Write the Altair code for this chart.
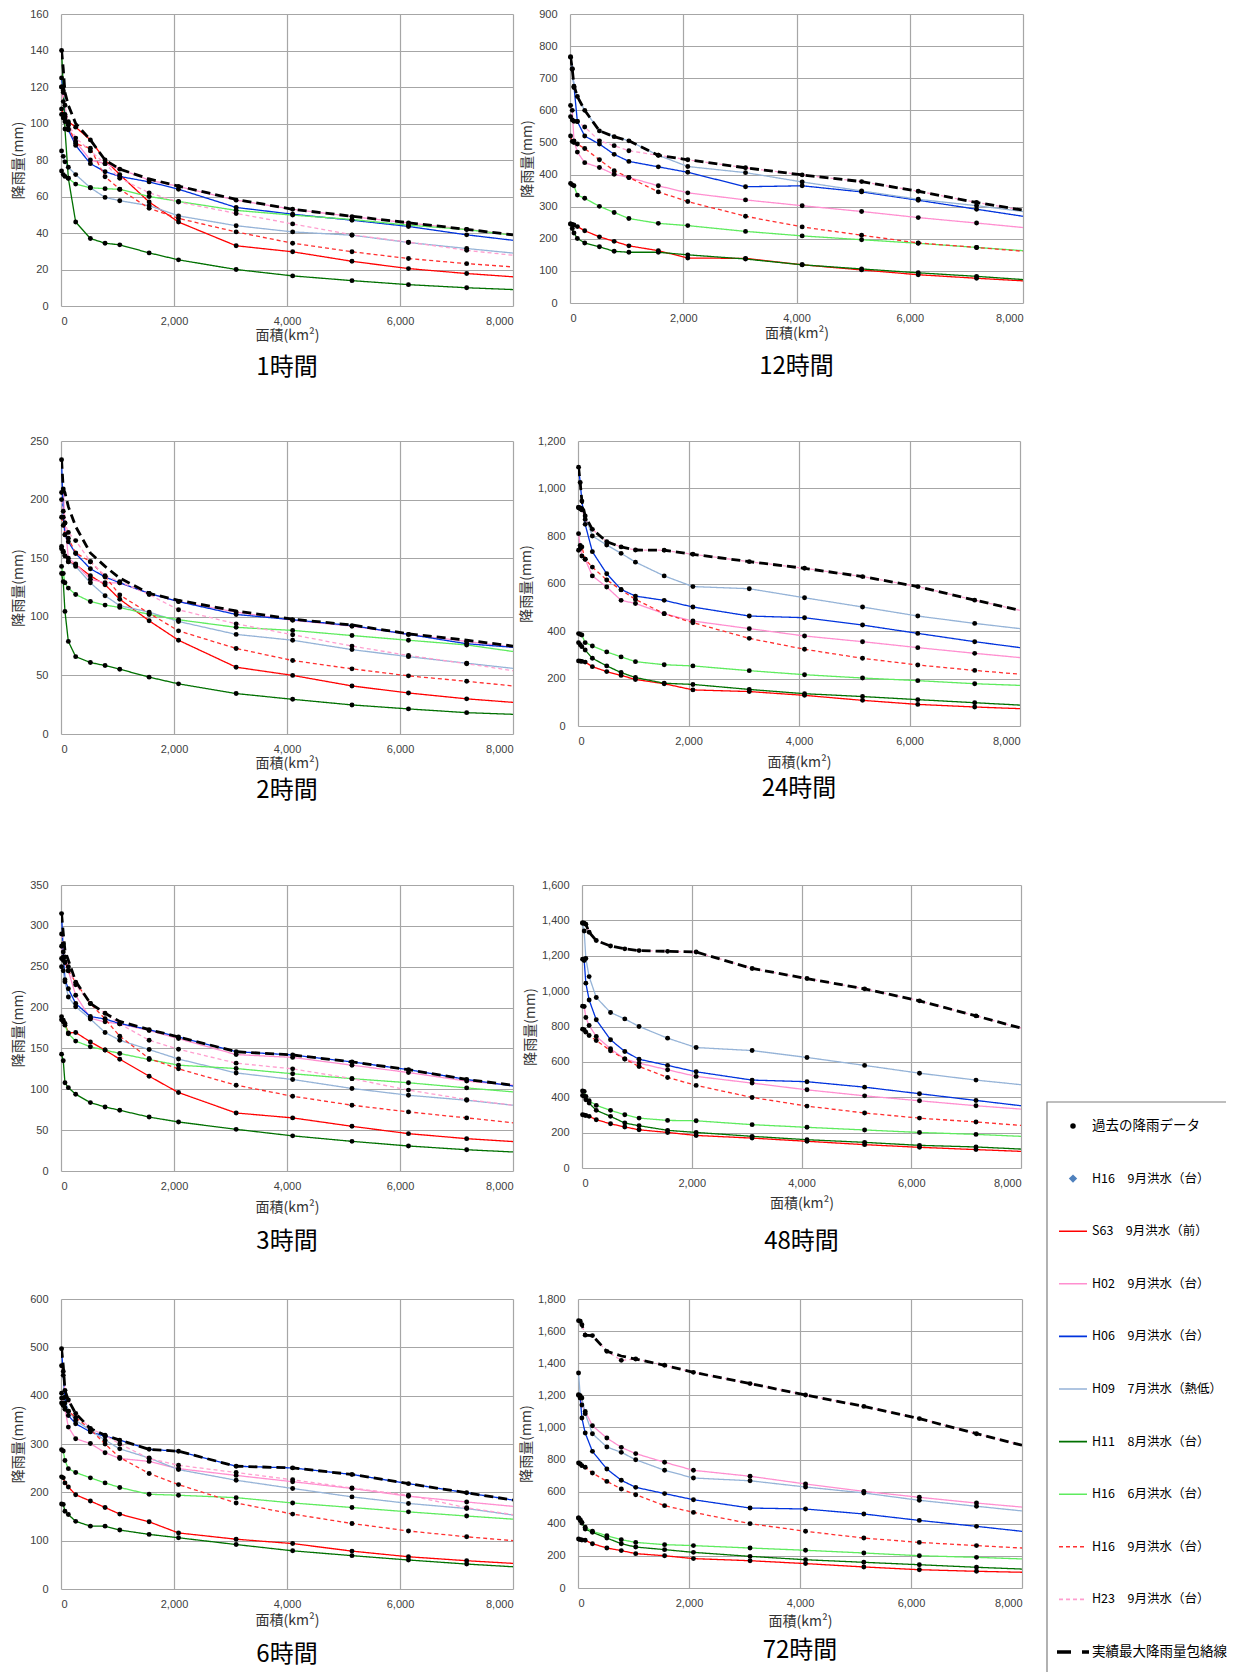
import altair as alt
import pandas as pd

# ---------------- data ----------------
AREAS = [10, 40, 70, 130, 260, 520, 780, 1040, 1560, 2080, 3100, 4100, 5150, 6150, 7180, 8000]
X_TICKS = [0, 2000, 4000, 6000, 8000]

SERIES = ["S63", "H02", "H06", "H09", "H11", "H16_6", "H16_9", "H23"]
COLORS = ["#FF0000", "#FF8FD0", "#0033DD", "#95B3D7", "#007000", "#5EEB5E", "#FF3030", "#FF9ECF"]
DASHES = [[1, 0], [1, 0], [1, 0], [1, 0], [1, 0], [1, 0], [4, 3], [4, 3]]

P01 = {
    "S63":   [108, 105, 103, 101, 98, 91, 80, 72, 57, 46, 33, 29.7, 24.5, 20.5, 17.8, 16],
    "H02":   [120, 112, 104, 97, 90, 80, 78, 75, 69, 65.5, 58, 53, 49, 45.5, 42, 39],
    "H06":   [125, 118, 105, 96.5, 88, 78, 73.6, 71, 68, 64, 54, 50.3, 47, 43.6, 39, 36],
    "H09":   [85, 82, 79, 76, 72, 64.8, 59.5, 57.7, 55, 49.4, 44, 40.6, 38.8, 34.8, 31.5, 29],
    "H11":   [140, 120, 97, 70, 46, 37, 34.4, 33.5, 29.1, 25.3, 20, 16.5, 13.9, 11.7, 10, 9],
    "H16_6": [74, 72, 71, 70, 66.8, 64.8, 64.3, 63.9, 60, 57.3, 52.4, 49.8, 47.4, 44.3, 41.9, 38.8],
    "H16_9": [105, 103, 101, 99, 89, 86.4, 70.8, 64, 53.5, 48, 40.6, 34.4, 29.7, 26, 23.2, 21.4],
    "H23":   [120, 117, 110, 100, 92, 85, 78, 70, 62, 57, 50.7, 45, 39, 35, 30.5, 27.8],
}
ENV01 = [140, 130, 117, 110, 100, 91, 80, 75, 69.6, 65.7, 58.4, 53, 49.2, 45.6, 42, 39]

P12 = {
    "S63":   [246, 245, 243, 238, 225, 206, 192, 178, 163, 140, 139, 119, 103, 88, 77, 69],
    "H02":   [615, 600, 505, 470, 437, 422, 401, 391, 365, 343, 321, 303, 285, 266, 249, 235],
    "H06":   [767, 728, 675, 565, 520, 495, 463, 441, 424, 407, 362, 365, 346, 320, 292, 270],
    "H09":   [765, 730, 671, 643, 600, 536, 518, 505, 460, 425, 406, 377, 349, 323, 303, 285],
    "H11":   [246, 232, 218, 201, 187, 175, 161, 158, 158, 150, 137, 119, 106, 94, 83, 73],
    "H16_6": [372, 368, 365, 336, 326, 301, 282, 263, 248, 241, 223, 209, 197, 186, 173, 163],
    "H16_9": [520, 503, 500, 495, 481, 446, 412, 391, 346, 316, 270, 237, 211, 187, 173, 161],
    "H23":   [580, 570, 566, 565, 548, 505, 490, 474, 460, 446, 421, 399, 378, 348, 313, 289],
}
ENV12 = [767, 728, 678, 643, 600, 536, 518, 505, 460, 446, 421, 399, 378, 348, 313, 289]

P02 = {
    "S63":   [158, 155, 152, 147, 144.5, 135, 127.4, 115, 96.6, 80, 57, 50, 41, 35, 30, 27],
    "H02":   [206, 209, 180, 150, 145, 132, 129, 129, 120, 113, 104, 97, 92, 85, 79, 74],
    "H06":   [234, 185, 170, 164, 154, 141, 134, 129, 120, 113, 102, 97.5, 92.5, 85, 77, 74],
    "H09":   [160, 156, 152, 147, 143, 129, 118, 109.5, 104, 96, 85, 80, 72, 66, 60.4, 56],
    "H11":   [137, 130, 104.6, 79, 66, 61, 58.4, 55.3, 48.5, 42.8, 34.5, 29.6, 24.8, 21.4, 18.2, 16.8],
    "H16_6": [143, 137, 129, 124.5, 119, 113, 110, 108, 102, 97.5, 91, 88.4, 84, 80, 76, 70.4],
    "H16_9": [185, 178, 170, 167, 154.5, 147, 134.5, 118.6, 103, 88, 73, 62.7, 55.6, 49.6, 45, 41],
    "H23":   [200, 190, 180, 172, 165, 147, 135, 130, 119, 106, 94, 84.7, 75, 67, 60, 54],
}
ENV02 = [234, 209, 206, 194, 177, 154.5, 143, 133, 120, 114, 105, 98, 93, 85.5, 80, 75]

P24 = {
    "S63":   [274, 273, 272, 269, 250, 229, 213, 196, 178, 152, 145, 129, 108, 91, 80, 73],
    "H02":   [810, 760, 716, 702, 632, 585, 529, 516, 473, 442, 410, 379, 355, 330, 306, 288],
    "H06":   [1090, 1025, 947, 849, 734, 641, 575, 547, 529, 501, 463, 456, 425, 390, 355, 330],
    "H09":   [920, 915, 910, 884, 800, 762, 727, 690, 632, 587, 578, 540, 501, 463, 432, 410],
    "H11":   [351, 342, 334, 320, 285, 253, 225, 204, 180, 175, 154, 136, 124, 111, 98, 88],
    "H16_6": [389, 386, 383, 351, 337, 312, 291, 271, 258, 253, 233, 216, 202, 191, 178, 171],
    "H16_9": [740, 747, 754, 702, 669, 615, 573, 533, 473, 435, 369, 323, 285, 257, 234, 218],
    "H23":   [920, 918, 915, 870, 828, 776, 754, 741, 740, 723, 692, 664, 629, 587, 530, 487],
}
ENV24 = [1090, 1025, 947, 884, 828, 776, 754, 741, 740, 723, 692, 664, 629, 587, 530, 487]

P03 = {
    "S63":   [185, 182.5, 180.5, 169, 169.5, 158, 148, 136.8, 116, 96, 71, 65, 54.7, 45.7, 39.6, 36],
    "H02":   [275, 262, 255, 245, 215, 187, 182.5, 180, 172, 162, 142.5, 139, 129.5, 120.5, 110, 105],
    "H06":   [315, 268, 234, 223, 205, 189, 186, 180.5, 173, 164, 146, 142, 133.5, 124, 112, 104],
    "H09":   [250, 245, 231.5, 213, 201, 186, 169.5, 160, 148.6, 137, 120, 112, 101, 92.7, 86.6, 80.5],
    "H11":   [143, 135, 108, 102, 94, 83.7, 78.4, 74.3, 66, 60, 51, 43, 36.3, 30.6, 26, 23.3],
    "H16_6": [188.7, 184.6, 178.5, 168, 159, 152, 148, 143.8, 136.4, 129.5, 125.4, 119, 113, 108, 101.7, 96.8],
    "H16_9": [260, 258, 256, 245, 231, 205, 186, 165, 137.6, 125, 105, 91.5, 80.5, 72.3, 65, 59],
    "H23":   [290, 278, 262, 250, 228, 205, 193, 180, 160, 149, 132, 125, 113, 99, 87.4, 80.5],
}
ENV03 = [315, 291, 270, 258, 232, 205, 193, 183, 173, 164, 146, 142, 133.5, 124, 112, 105]

P48 = {
    "S63":   [301, 299, 297, 292, 273, 250, 232, 216, 201, 184, 169, 151, 132, 117, 104, 94],
    "H02":   [915, 913, 851, 806, 744, 674, 616, 593, 555, 518, 480, 442, 408, 380, 352, 333],
    "H06":   [1180, 1173, 1045, 950, 838, 725, 659, 615, 580, 544, 497, 488, 457, 420, 382, 352],
    "H09":   [1384, 1340, 1185, 1082, 964, 879, 843, 800, 734, 681, 664, 625, 580, 536, 497, 471],
    "H11":   [410, 405, 386, 367, 326, 292, 254, 239, 213, 201, 179, 160, 145, 128, 119, 107],
    "H16_6": [435, 433, 405, 380, 354, 326, 301, 282, 269, 267, 245, 230, 215, 201, 190, 179],
    "H16_9": [785, 781, 768, 749, 721, 663, 616, 574, 512, 467, 399, 350, 311, 282, 260, 241],
    "H23":   [1387, 1384, 1378, 1333, 1286, 1255, 1239, 1229, 1225, 1221, 1128, 1071, 1013, 945, 860, 791],
}
ENV48 = [1387, 1384, 1378, 1333, 1286, 1255, 1239, 1229, 1225, 1221, 1128, 1071, 1013, 945, 860, 791]

P06 = {
    "S63":   [232, 230, 219.5, 211, 195, 182, 168.6, 155, 139, 116, 103, 94, 78.4, 66.7, 58.5, 53],
    "H02":   [395, 380, 372, 335, 311, 301, 282, 270, 264, 249, 235, 222, 208, 192, 180, 171],
    "H06":   [497, 442, 397, 359, 342, 325, 316, 308, 289, 285, 254, 250.5, 237, 218, 199, 184],
    "H09":   [405, 395, 385, 368, 349, 328, 308, 290, 271, 247, 225, 208, 190.6, 177, 166.5, 153],
    "H11":   [176, 175, 161, 154, 140, 130, 130, 122, 113, 106, 92, 79, 69, 60, 51.6, 46],
    "H16_6": [288, 285.5, 266, 249, 241, 230, 219.5, 210, 196, 194, 189, 178, 168.6, 159.6, 151, 144.5],
    "H16_9": [385, 380, 375, 368, 355, 330, 300, 272, 239, 216, 178, 155, 135.5, 120, 108, 100],
    "H23":   [462, 450, 411, 391, 363, 332, 318, 300, 270, 256, 241, 226, 209, 194, 168, 154],
}
ENV06 = [497, 462, 411, 391, 363, 332, 318, 308, 289, 285, 254, 250.5, 237, 218, 199, 184]

P72 = {
    "S63":   [305, 301, 299, 297, 276, 249, 233, 214, 201, 183, 170, 152, 131, 114, 104, 98],
    "H02":   [1200, 1185, 1140, 1100, 1011, 934, 876, 837, 783, 733, 696, 648, 602, 565, 529, 504],
    "H06":   [1204, 1183, 1059, 965, 851, 741, 671, 627, 588, 550, 498, 492, 461, 421, 384, 353],
    "H09":   [1339, 1198, 1183, 1086, 961, 878, 845, 799, 733, 685, 668, 629, 592, 546, 509, 480],
    "H11":   [436, 421, 405, 367, 347, 311, 276, 255, 239, 222, 197, 176, 160, 145, 129, 118],
    "H16_6": [436, 426, 409, 378, 353, 326, 301, 284, 270, 264, 249, 235, 218, 201, 191, 181],
    "H16_9": [779, 772, 762, 752, 716, 664, 617, 581, 513, 471, 401, 353, 311, 284, 264, 249],
    "H23":   [1665, 1661, 1640, 1575, 1572, 1474, 1418, 1426, 1387, 1343, 1273, 1202, 1131, 1055, 961, 889],
}
ENV72 = [1665, 1661, 1640, 1575, 1572, 1474, 1445, 1426, 1387, 1343, 1273, 1202, 1131, 1055, 961, 889]

LEG_LABELS = ["過去の降雨データ", "H16　9月洪水（台）", "S63　9月洪水（前）", "H02　9月洪水（台）",
              "H06　9月洪水（台）", "H09　7月洪水（熱低）", "H11　8月洪水（台）", "H16　6月洪水（台）",
              "H16　9月洪水（台）", "H23　9月洪水（台）", "実績最大降雨量包絡線"]
LEG_KIND = ["dot", "diamond", "S63", "H02", "H06", "H09", "H11", "H16_6", "H16_9", "H23", "ENV"]

# ---------------- layout constants ----------------
JP = "Noto Sans CJK JP"
LEG_W, LEG_H = 180, 787
LEG_STEP = 52.6
LEG_D0 = -241 / LEG_STEP
LEG_D1 = LEG_D0 + LEG_H / LEG_STEP
LEG_BOX_TOP = LEG_D0 + 217 / LEG_STEP


def long_df(d):
    rows = []
    for s in SERIES:
        for a, v in zip(AREAS, d[s]):
            rows.append({"area": a, "value": v, "series": s})
    return pd.DataFrame(rows)


def panel(title, d, env, ymax, ystep, w, h, xtp, toff):
    df = long_df(d)
    edf = pd.DataFrame({"area": AREAS, "value": env})
    xs = alt.Scale(domain=[0, 8000], nice=False, zero=False)
    ys = alt.Scale(domain=[0, ymax], nice=False)
    yvals = list(range(0, ymax + 1, ystep))
    xenc = alt.X("area:Q", scale=xs,
                 axis=alt.Axis(values=X_TICKS, tickCount=len(X_TICKS), format=",d", title="面積(km²)",
                               titlePadding=xtp, labelOverlap=False))
    yenc = alt.Y("value:Q", scale=ys,
                 axis=alt.Axis(values=yvals, tickCount=len(yvals), format=",d", title="降雨量(mm)",
                               labelOverlap=False))
    lines = alt.Chart(df).mark_line(strokeWidth=1.3, clip=True).encode(
        x=xenc, y=yenc,
        color=alt.Color("series:N", scale=alt.Scale(domain=SERIES, range=COLORS), legend=None),
        strokeDash=alt.StrokeDash("series:N", scale=alt.Scale(domain=SERIES, range=DASHES), legend=None),
    )
    env_line = alt.Chart(edf).mark_line(color="black", strokeWidth=2.8, strokeDash=[9, 5], clip=True).encode(
        x=alt.X("area:Q", scale=xs), y=alt.Y("value:Q", scale=ys))
    dots = alt.Chart(df).transform_filter(alt.datum.area < 8000).mark_circle(
        color="black", size=24, opacity=1).encode(
        x=alt.X("area:Q", scale=xs), y=alt.Y("value:Q", scale=ys))
    return alt.layer(lines, env_line, dots).properties(
        width=w, height=h,
        title=alt.TitleParams(title, orient="bottom", frame="group", anchor="middle", offset=toff,
                              fontSize=24, font=JP, fontWeight="normal", color="black"))


p1 = panel("1時間", P01, ENV01, 160, 20, 452, 292, 2, 14)
p12 = panel("12時間", P12, ENV12, 900, 100, 453, 289, 3, 15)
p2 = panel("2時間", P02, ENV02, 250, 50, 452, 293, 2, 9)
p24 = panel("24時間", P24, ENV24, 1200, 200, 442, 285, 9, 8)
p3 = panel("3時間", P03, ENV03, 350, 50, 452, 286, 9, 16)
p48 = panel("48時間", P48, ENV48, 1600, 200, 439, 283, 8, 20)
p6 = panel("6時間", P06, ENV06, 600, 100, 452, 290, 4, 16)
p72 = panel("72時間", P72, ENV72, 1800, 200, 444, 289, 6, 11)

# ---------------- legend ----------------
leg_df = pd.DataFrame({"idx": list(range(len(LEG_LABELS))), "label": LEG_LABELS, "kind": LEG_KIND})
lys = alt.Scale(domain=[LEG_D0, LEG_D1], nice=False, zero=False, reverse=True)
ly = alt.Y("idx:Q", scale=lys, axis=None)
box_df = pd.DataFrame({"top": [LEG_BOX_TOP], "bottom": [LEG_D1 + 1]})
box = alt.Chart(box_df).mark_rect(fill="white", stroke="#7F7F7F", strokeWidth=1.2, clip=True).encode(
    x=alt.value(1), x2=alt.value(LEG_W + 10),
    y=alt.Y("top:Q", scale=lys, axis=None), y2="bottom:Q")
leg_text = alt.Chart(leg_df).mark_text(align="left", baseline="middle", font=JP,
                                       color="black").encode(
    x=alt.value(46), y=ly, text="label:N",
    size=alt.condition("datum.kind == 'dot' || datum.kind == 'ENV'", alt.value(13.5), alt.value(12.5)))
leg_lines = alt.Chart(leg_df).transform_filter(
    alt.FieldOneOfPredicate(field="kind", oneOf=SERIES)).mark_rule(strokeWidth=1.6).encode(
    x=alt.value(13), x2=alt.value(41), y=ly,
    color=alt.Color("kind:N", scale=alt.Scale(domain=SERIES, range=COLORS), legend=None),
    strokeDash=alt.StrokeDash("kind:N", scale=alt.Scale(domain=SERIES, range=DASHES), legend=None))
leg_dot = alt.Chart(leg_df).transform_filter(alt.datum.kind == "dot").mark_circle(
    color="black", size=30, opacity=1).encode(x=alt.value(27), y=ly)
leg_dia = alt.Chart(leg_df).transform_filter(alt.datum.kind == "diamond").mark_point(
    shape="diamond", filled=True, size=70, color="#4F81BD", opacity=1).encode(x=alt.value(27), y=ly)
leg_env = alt.Chart(leg_df).transform_filter(alt.datum.kind == "ENV").mark_rule(
    color="black", strokeWidth=3.5, strokeDash=[14, 11]).encode(x=alt.value(11), x2=alt.value(43), y=ly)
legend = alt.layer(box, leg_lines, leg_env, leg_dot, leg_dia, leg_text).properties(width=LEG_W, height=LEG_H)

# ---------------- assemble ----------------
row1 = alt.hconcat(p1, p12, spacing=7)
row2 = alt.hconcat(p2, p24, spacing=6)
row3 = alt.hconcat(p3, p48, spacing=10)
row4 = alt.hconcat(p6, p72, spacing=6)
bottom = alt.hconcat(alt.vconcat(row3, row4, spacing=39), legend, spacing=24)
chart = alt.vconcat(row1, alt.vconcat(row2, bottom, spacing=76), spacing=55).properties(
    padding={"left": 3, "top": 0, "right": 0, "bottom": 0}
).configure_view(strokeWidth=0).configure_axis(
    grid=True, gridColor="#A6A6A6", gridWidth=1.2, domain=False, ticks=False, tickSize=0,
    labelFont="Liberation Sans", labelFontSize=11, labelColor="#404040", labelOverlap=False,
    titleFont=JP, titleFontSize=14, titleFontWeight="normal", titleColor="#333333"
).configure_axisX(labelPadding=9).configure_axisY(labelPadding=13, titlePadding=4)

chart.save("out.html", embed_options={"renderer": "svg", "actions": False})
